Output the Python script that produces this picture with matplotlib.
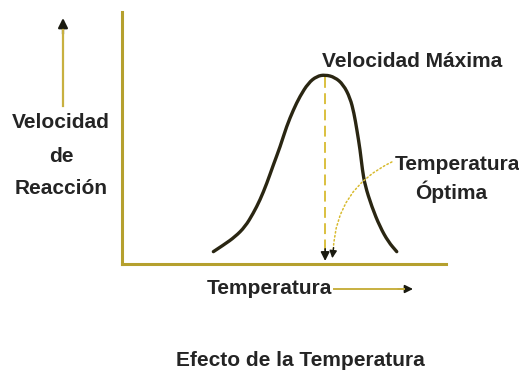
import matplotlib.pyplot as plt
from matplotlib.path import Path
from matplotlib.patches import PathPatch

# curve (temperature vs. reaction rate, arbitrary units)
temp = [28.2, 31.3, 34.9, 38.0, 40.5, 42.6, 44.7, 46.7, 48.8, 50.8, 52.9, 54.9, 57.5, 60.1,
        62.7, 65.7, 68.3, 70.4, 71.6, 72.5, 73.5, 74.2, 75.0, 77.1, 79.6, 82.2, 84.8]
rate = [4.9, 7.5, 10.8, 14.8, 20.1, 25.4, 32.0, 39.3, 46.5, 54.6, 61.2, 66.5, 71.8, 74.5,
        75.1, 74.1, 71.2, 65.9, 59.9, 53.2, 45.2, 37.3, 31.3, 22.7, 14.8, 8.8, 4.9]
t_opt = 62.7
v_max = 75.1

title = 'Efecto de la Temperatura'
ylabel = ['Velocidad', 'de', 'Reacción']
xlabel = 'Temperatura'
peak_label = 'Velocidad Máxima'
opt_label = ['Temperatura', 'Óptima']

W, H = 519, 374
txt = dict(family=['Liberation Sans', 'DejaVu Sans'], fontweight='bold', color='#242424',
           fontsize=15)
axis_col = '#b5a02e'
gold = '#d8bb30'
dark = '#1a1a10'

fig = plt.figure(figsize=(W / 100, H / 100), dpi=100)
ax = fig.add_axes([122 / W, 1 - 264 / H, (446 - 122) / W, (264 - 12) / H])
ax.set_xlim(0, 100)
ax.set_ylim(0, 100)
for s in ['top', 'right']:
    ax.spines[s].set_visible(False)
for s in ['left', 'bottom']:
    ax.spines[s].set_color(axis_col)
    ax.spines[s].set_linewidth(2.2)
ax.set_xticks([])
ax.set_yticks([])

# smooth curve through the read points (quadratic segments between midpoints)
pts = list(zip(temp, rate))
verts = [pts[0]]
codes = [Path.MOVETO]
for i in range(1, len(pts) - 1):
    mid = ((pts[i][0] + pts[i + 1][0]) / 2, (pts[i][1] + pts[i + 1][1]) / 2)
    verts += [pts[i], mid]
    codes += [Path.CURVE3, Path.CURVE3]
verts.append(pts[-1])
codes.append(Path.LINETO)
ax.add_patch(PathPatch(Path(verts, codes), fill=False, edgecolor='#2a2612', lw=2.4,
                       capstyle='round', joinstyle='round'))

# dashed drop line from the maximum
ax.plot([t_opt, t_opt], [v_max - 1, 5], color=gold, lw=1.3, ls=(0, (6, 3)))
ax.annotate('', xy=(t_opt, 1.2), xytext=(t_opt, 6),
            arrowprops=dict(arrowstyle='-|>', color=dark, lw=1.2, mutation_scale=13,
                            shrinkA=0, shrinkB=0))

ax.text(89.5, 80.2, peak_label, ha='center', va='center', **txt)

# optimum temperature label with curved dotted arrow
ax.text(103.5, 39.5, opt_label[0], ha='center', va='center', clip_on=False, **txt)
ax.text(101.5, 28.6, opt_label[1], ha='center', va='center', clip_on=False, **txt)
ax.annotate('', xy=(65.2, 5.5), xytext=(83.3, 40.5),
            arrowprops=dict(arrowstyle='-', color=gold, lw=1.1, ls=':',
                            connectionstyle='arc3,rad=0.3', shrinkA=0, shrinkB=0))
ax.annotate('', xy=(64.9, 2.3), xytext=(65.3, 6.5),
            arrowprops=dict(arrowstyle='-|>', color=dark, lw=1.0, mutation_scale=11,
                            shrinkA=0, shrinkB=0))

# labels outside the axes
for line, y in zip(ylabel, [122, 157, 188]):
    fig.text(61 / W, 1 - y / H, line, ha='center', va='center', **txt)
fig.text(269.5 / W, 1 - 288 / H, xlabel, ha='center', va='center', **txt)
fig.text(300 / W, 1 - 360 / H, title, ha='center', va='center', **txt)

# direction arrows: gold shaft, dark head
fig.add_artist(plt.Line2D([63 / W, 63 / W], [1 - 106 / H, 1 - 30 / H], color='#c8b040', lw=1.6))
ax.annotate('', xy=(63 / W, 1 - 18 / H), xytext=(63 / W, 1 - 34 / H),
            xycoords='figure fraction', textcoords='figure fraction',
            arrowprops=dict(arrowstyle='-|>', color=dark, lw=1.6, mutation_scale=14,
                            shrinkA=0, shrinkB=0))
fig.add_artist(plt.Line2D([334 / W, 404 / W], [1 - 289 / H, 1 - 289 / H], color='#c8b040', lw=1.4))
ax.annotate('', xy=(413 / W, 1 - 289 / H), xytext=(398 / W, 1 - 289 / H),
            xycoords='figure fraction', textcoords='figure fraction',
            arrowprops=dict(arrowstyle='-|>', color=dark, lw=1.2, mutation_scale=12,
                            shrinkA=0, shrinkB=0))

fig.savefig('out.png', dpi=100)
